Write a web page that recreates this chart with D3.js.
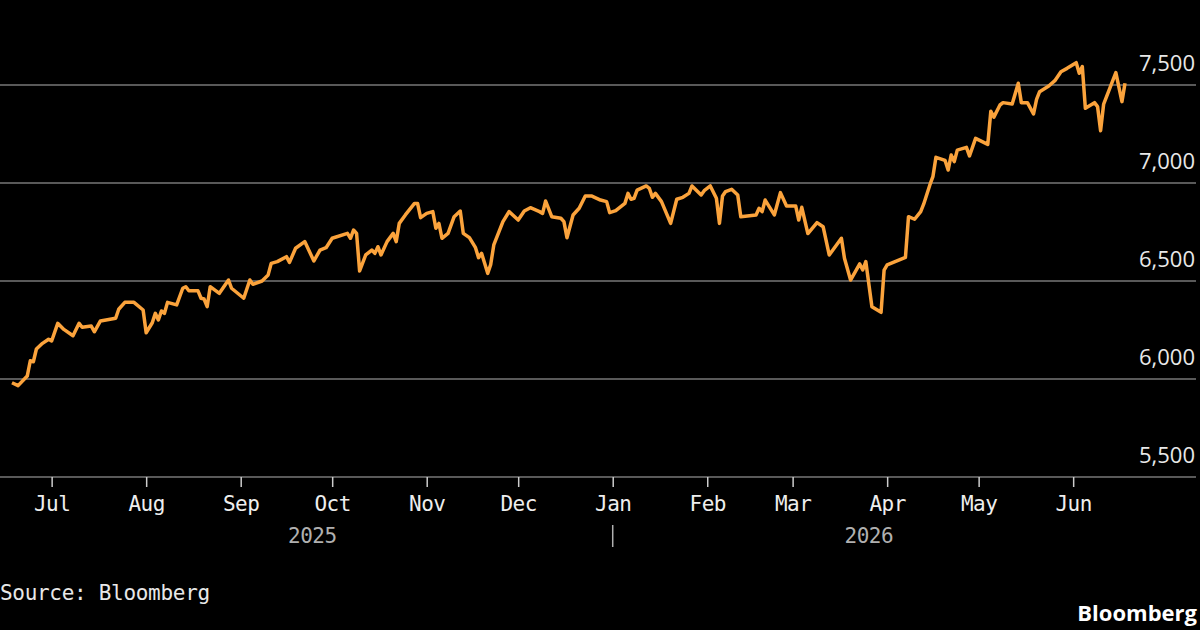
<!DOCTYPE html>
<html>
<head>
<meta charset="utf-8">
<script src="https://cdn.jsdelivr.net/npm/d3@7"></script>
<style>
  html, body { margin: 0; padding: 0; background: #000; }
  svg { display: block; }
</style>
</head>
<body>
<div id="chart"></div>
<script>
// data
var dates = [
  "2025-06-18", "2025-06-20", "2025-06-23", "2025-06-24", "2025-06-25", "2025-06-26", "2025-06-28", "2025-06-30",
  "2025-07-01", "2025-07-03", "2025-07-05", "2025-07-08", "2025-07-10", "2025-07-11", "2025-07-14", "2025-07-15",
  "2025-07-17", "2025-07-22", "2025-07-23", "2025-07-25", "2025-07-28", "2025-07-31",
  "2025-08-01", "2025-08-03", "2025-08-04", "2025-08-05", "2025-08-06", "2025-08-07", "2025-08-08", "2025-08-11",
  "2025-08-13", "2025-08-14", "2025-08-15", "2025-08-18", "2025-08-19", "2025-08-20", "2025-08-21", "2025-08-22",
  "2025-08-25", "2025-08-28", "2025-08-29",
  "2025-09-02", "2025-09-04", "2025-09-05", "2025-09-08", "2025-09-10", "2025-09-11", "2025-09-13", "2025-09-16",
  "2025-09-17", "2025-09-19", "2025-09-22", "2025-09-25", "2025-09-27", "2025-09-29",
  "2025-10-01", "2025-10-06", "2025-10-07", "2025-10-08", "2025-10-09", "2025-10-10", "2025-10-12", "2025-10-14",
  "2025-10-15", "2025-10-16", "2025-10-17", "2025-10-19", "2025-10-21", "2025-10-22", "2025-10-23", "2025-10-25",
  "2025-10-28", "2025-10-29", "2025-10-30",
  "2025-11-01", "2025-11-03", "2025-11-04", "2025-11-05", "2025-11-06", "2025-11-08", "2025-11-10", "2025-11-12",
  "2025-11-13", "2025-11-15", "2025-11-17", "2025-11-18", "2025-11-19", "2025-11-20", "2025-11-21", "2025-11-22",
  "2025-11-23", "2025-11-26", "2025-11-28",
  "2025-12-01", "2025-12-03", "2025-12-05", "2025-12-08", "2025-12-09", "2025-12-10", "2025-12-12", "2025-12-15",
  "2025-12-16", "2025-12-17", "2025-12-19", "2025-12-21", "2025-12-23", "2025-12-25", "2025-12-28", "2025-12-30",
  "2025-12-31",
  "2026-01-02", "2026-01-05", "2026-01-06", "2026-01-07", "2026-01-08", "2026-01-09", "2026-01-12", "2026-01-13",
  "2026-01-14", "2026-01-15", "2026-01-17", "2026-01-20", "2026-01-22", "2026-01-24", "2026-01-26", "2026-01-27",
  "2026-01-30", "2026-01-31",
  "2026-02-02", "2026-02-04", "2026-02-05", "2026-02-06", "2026-02-07", "2026-02-09", "2026-02-11", "2026-02-12",
  "2026-02-17", "2026-02-18", "2026-02-19", "2026-02-20", "2026-02-23", "2026-02-25", "2026-02-27",
  "2026-03-02", "2026-03-03", "2026-03-04", "2026-03-06", "2026-03-09", "2026-03-11", "2026-03-13", "2026-03-17",
  "2026-03-18", "2026-03-20", "2026-03-23", "2026-03-24", "2026-03-25", "2026-03-27", "2026-03-30", "2026-03-31",
  "2026-04-01", "2026-04-07", "2026-04-08", "2026-04-10", "2026-04-12", "2026-04-13", "2026-04-15", "2026-04-16",
  "2026-04-17", "2026-04-20", "2026-04-21", "2026-04-22", "2026-04-23", "2026-04-24", "2026-04-27", "2026-04-28",
  "2026-04-30",
  "2026-05-04", "2026-05-05", "2026-05-06", "2026-05-08", "2026-05-09", "2026-05-12", "2026-05-14", "2026-05-15",
  "2026-05-17", "2026-05-19", "2026-05-20", "2026-05-21", "2026-05-24", "2026-05-26", "2026-05-28", "2026-05-30",
  "2026-06-02", "2026-06-03", "2026-06-04", "2026-06-05", "2026-06-08", "2026-06-09", "2026-06-10", "2026-06-11",
  "2026-06-15", "2026-06-17", "2026-06-18"
];

var values = [
  5981, 5966, 6015, 6093, 6088, 6153, 6182, 6203,
  6194, 6284, 6253, 6221, 6284, 6264, 6270, 6241,
  6296, 6310, 6356, 6391, 6391, 6352,
  6236, 6287, 6335, 6301, 6347, 6335, 6391, 6378,
  6463, 6471, 6450, 6450, 6412, 6408, 6369, 6471,
  6437, 6505, 6463,
  6412, 6505, 6483, 6500, 6531, 6590, 6599, 6624,
  6595, 6667, 6701, 6602, 6658, 6670,
  6718, 6743, 6718, 6760, 6743, 6551, 6633, 6658,
  6641, 6675, 6633, 6701, 6743, 6701, 6794, 6837,
  6896, 6896, 6823,
  6845, 6854, 6769, 6794, 6718, 6743, 6828, 6857,
  6743, 6721, 6670, 6619, 6641, 6590, 6539, 6585,
  6684, 6803, 6854,
  6811, 6857, 6874, 6854, 6845, 6908, 6828, 6820,
  6803, 6721, 6837, 6871, 6934, 6934, 6913, 6905,
  6849,
  6859, 6896, 6947, 6917, 6922, 6964, 6985, 6973,
  6927, 6947, 6905, 6794, 6917, 6927, 6947, 6985,
  6939, 6961,
  6985, 6922, 6794, 6934, 6956, 6968, 6939, 6828,
  6837, 6871, 6854, 6913, 6837, 6951, 6883,
  6883, 6811, 6876, 6742, 6798, 6777, 6633, 6718,
  6616, 6505, 6587, 6556, 6599, 6369, 6340, 6556,
  6582, 6621, 6828, 6815, 6854, 6893, 6990, 7032,
  7131, 7115, 7066, 7143, 7109, 7168, 7182, 7138,
  7228,
  7197, 7366, 7336, 7398, 7410, 7403, 7509, 7410,
  7410, 7352, 7427, 7466, 7495, 7522, 7568, 7585,
  7614, 7560, 7594, 7381, 7410, 7390, 7267, 7403,
  7563, 7415, 7509
];

var yTicks = [5500, 6000, 6500, 7000, 7500];
var yearLabels = [
  { year: "2025", from: "2025-06-18", to: "2026-01-01" },
  { year: "2026", from: "2026-01-01", to: "2026-06-18" }
];
var sourceText = "Source: Bloomberg";

var width = 1200,
  height = 630;

var parseDate = d3.timeParse("%Y-%m-%d");
var series = dates.map(function (d, i) {
  return { date: parseDate(d), value: values[i] };
});

var svg = d3
  .select("#chart")
  .append("svg")
  .attr("width", width)
  .attr("height", height)
  .style("background", "#000");

var x = d3
  .scaleTime()
  .domain(d3.extent(series, function (d) { return d.date; }))
  .range([12, 1125]);

var y = d3.scaleLinear().domain([5500, 7500]).range([477, 85]);

// gridlines + right hand labels
var grid = svg.append("g");
grid
  .selectAll("line")
  .data(yTicks)
  .enter()
  .append("line")
  .attr("x1", 0)
  .attr("x2", 1196)
  .attr("y1", function (d) { return y(d); })
  .attr("y2", function (d) { return y(d); })
  .attr("stroke", "#777")
  .attr("stroke-width", 1.5);

grid
  .selectAll("text")
  .data(yTicks)
  .enter()
  .append("text")
  .attr("x", 1195)
  .attr("y", function (d) { return y(d) - 14; })
  .attr("text-anchor", "end")
  .style("font-family", "'Open Sans', sans-serif")
  .style("font-size", "22px")
  .style("fill", "#e8e8e8")
  .text(function (d) { return d3.format(",")(d); });

// month axis
var xAxis = d3
  .axisBottom(x)
  .ticks(d3.timeMonth.every(1))
  .tickFormat(d3.timeFormat("%b"))
  .tickSize(10)
  .tickPadding(9);

var axisG = svg
  .append("g")
  .attr("transform", "translate(0," + y(5500) + ")")
  .call(xAxis);

axisG.select(".domain").remove();
axisG.selectAll(".tick line").attr("stroke", "#ccc").attr("stroke-width", 1.5);
axisG
  .selectAll(".tick text")
  .style("font-family", "'DejaVu Sans Mono', monospace")
  .style("font-size", "21px")
  .style("letter-spacing", "-0.5px")
  .style("fill", "#eee");

// year labels, centred on their span
svg
  .selectAll(".year")
  .data(yearLabels)
  .enter()
  .append("text")
  .attr("class", "year")
  .attr("x", function (d) { return (x(parseDate(d.from)) + x(parseDate(d.to))) / 2; })
  .attr("y", 543)
  .attr("text-anchor", "middle")
  .style("font-family", "'DejaVu Sans Mono', monospace")
  .style("font-size", "21px")
  .style("letter-spacing", "-0.5px")
  .style("fill", "#b0b0b0")
  .text(function (d) { return d.year; });

// year separator
svg
  .append("line")
  .attr("x1", x(parseDate(yearLabels[1].from)))
  .attr("x2", x(parseDate(yearLabels[1].from)))
  .attr("y1", 525)
  .attr("y2", 547)
  .attr("stroke", "#b0b0b0")
  .attr("stroke-width", 1.5);

// the price line
var line = d3
  .line()
  .x(function (d) { return x(d.date); })
  .y(function (d) { return y(d.value); });

svg
  .append("path")
  .datum(series)
  .attr("d", line)
  .attr("fill", "none")
  .attr("stroke", "#fba33c")
  .attr("stroke-width", 3.5)
  .attr("stroke-linejoin", "round");

// footer
svg
  .append("text")
  .attr("x", 0)
  .attr("y", 600)
  .style("font-family", "'DejaVu Sans Mono', monospace")
  .style("font-size", "21px")
  .style("letter-spacing", "-0.3px")
  .style("fill", "#e8e8e8")
  .text(sourceText);

svg
  .append("text")
  .attr("x", 1197)
  .attr("y", 621)
  .attr("text-anchor", "end")
  .style("font-family", "'Open Sans', sans-serif")
  .style("font-weight", "bold")
  .style("font-size", "22px")
  .style("fill", "#fff")
  .text("Bloomberg");
</script>
</body>
</html>
